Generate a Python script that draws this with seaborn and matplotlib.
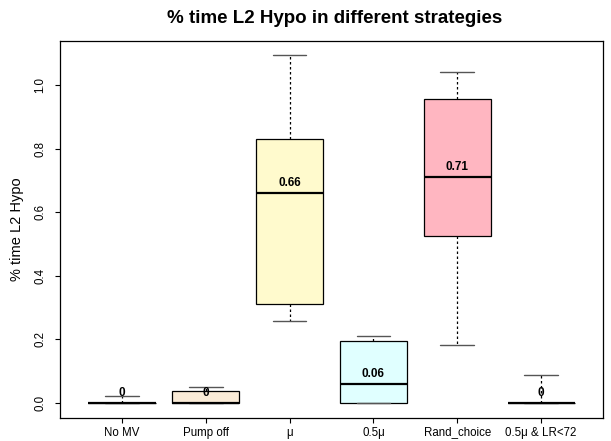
import numpy as np
import pandas as pd
import matplotlib
matplotlib.use("Agg")
import matplotlib.pyplot as plt
import seaborn as sns

# Strategies and their five-number summaries (min, Q1, median, Q3, max)
strategies = ["No MV", "Pump off", "μ", "0.5μ", "Rand_choice", "0.5μ & LR<72"]
mins    = [0.0,   0.0,   0.258, 0.0,   0.182, 0.0]
q1s     = [0.0,   0.0,   0.311, 0.0,   0.525, 0.0]
medians = [0.0,   0.0,   0.66,  0.06,  0.71,  0.0]
q3s     = [0.0,   0.038, 0.830, 0.195, 0.956, 0.0]
maxs    = [0.022, 0.051, 1.094, 0.211, 1.040, 0.089]
fills   = ["#FFFFFF", "#FAEBD7", "#FFFACD", "#E0FFFF", "#FFB6C1", "#FFFFFF"]

yticks = [0.0, 0.2, 0.4, 0.6, 0.8, 1.0]

# Long-form table: each summary value as an observation, so quartiles are exact
rows = []
for s, a, b, c, d, e in zip(strategies, mins, q1s, medians, q3s, maxs):
    for v in (a, b, c, d, e):
        rows.append({"strategy": s, "value": v})
df = pd.DataFrame(rows)

sns.set_style("ticks")
plt.rcParams["font.family"] = ["Liberation Sans", "DejaVu Sans"]
plt.rcParams.update({
    "text.color": "black", "axes.labelcolor": "black",
    "xtick.color": "black", "ytick.color": "black",
    "xtick.labelcolor": "black", "ytick.labelcolor": "black",
})

fig = plt.figure(figsize=(6.11, 4.41), dpi=100)
ax = fig.add_axes([0.0982, 0.052, 0.8888, 0.855])

sns.boxplot(
    data=df, x="strategy", y="value", hue="strategy",
    order=strategies, hue_order=strategies,
    palette=dict(zip(strategies, fills)), saturation=1,
    legend=False, whis=(0, 100), width=0.8, ax=ax,
    linecolor="black", linewidth=0.9, showfliers=False,
    whiskerprops={"linestyle": (0, (2, 2)), "linewidth": 0.9, "color": "black"},
    capprops={"color": "#555555", "linewidth": 1.0},
    medianprops={"color": "black", "linewidth": 1.6},
)

for i, m in enumerate(medians):
    ax.annotate(f"{round(m, 2):g}", xy=(i, m), xytext=(0, 7),
                textcoords="offset points", ha="center", va="center",
                fontsize=8.5, fontweight="bold", color="black")

ax.set_xlim(-0.74, 5.74)
ax.set_ylim(-0.047, 1.138)
ax.set_yticks(yticks)
ax.set_yticklabels([f"{t:.1f}" for t in yticks], rotation=90, va="center")
ax.tick_params(axis="both", labelsize=8.3, length=3.6, width=0.8,
               color="black", labelcolor="black")
ax.tick_params(axis="x", pad=2.5)
ax.tick_params(axis="y", pad=6)
for sp in ax.spines.values():
    sp.set_visible(True)
    sp.set_color("black")
    sp.set_linewidth(0.9)

ax.set_xlabel("")
ax.set_ylabel("% time L2 Hypo", fontsize=10.5, labelpad=8, color="black")
fig.suptitle("% time L2 Hypo in different strategies", fontsize=13.5,
             fontweight="bold", x=0.548, y=0.978, color="black")

fig.savefig("out.png", dpi=100, facecolor="white")
